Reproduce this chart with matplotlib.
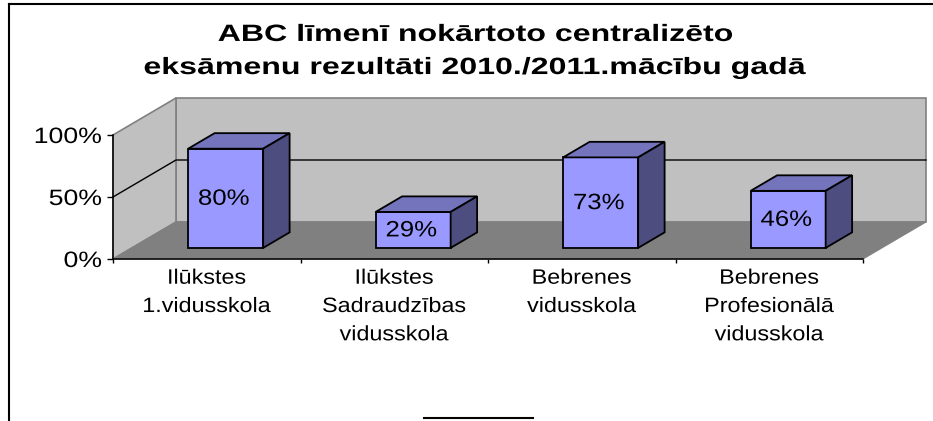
import matplotlib
matplotlib.use('Agg')
import matplotlib.pyplot as plt
from matplotlib.lines import Line2D
from matplotlib.patches import Polygon
from matplotlib.patheffects import AbstractPathEffect
from matplotlib.transforms import Affine2D

plt.rcParams['font.family'] = ['Liberation Sans', 'DejaVu Sans']

title = 'ABC līmenī nokārtoto centralizēto\neksāmenu rezultāti 2010./2011.mācību gadā'
categories = ['Ilūkstes\n1.vidusskola', 'Ilūkstes\nSadraudzības\nvidusskola',
              'Bebrenes\nvidusskola', 'Bebrenes\nProfesionālā\nvidusskola']
values = [80, 29, 73, 46]
value_labels = ['80%', '29%', '73%', '46%']
y_ticks = [0, 50, 100]
y_tick_labels = ['0%', '50%', '100%']

W, H = 933, 421
# plot box of the front plane, in pixels
left, right, top, bottom = 113, 863, 135, 259

# depth of the 3d box, in data units (63 px across, 37 px up)
depth_x = 63 / ((right - left) / 4)
depth_y = 37 / ((bottom - top) / 100)
bar_width = 0.40
bar_front = 0.30
bar_back = 0.72

wall = '#c0c0c0'
floor = '#808080'
bar_face = '#9999ff'
bar_top = '#7474bc'
bar_side = '#4d4d80'


class Stretch(AbstractPathEffect):
    # the reference text is stretched sideways, so widen each line about its centre or right end
    def __init__(self, sx, anchor='center'):
        super().__init__()
        self.sx = sx
        self.anchor = anchor

    def draw_path(self, renderer, gc, tpath, affine, rgbFace=None):
        box = tpath.get_extents(affine)
        cx = box.x1 if self.anchor == 'right' else (box.x0 + box.x1) / 2
        new = affine + Affine2D().translate(-cx, 0).scale(self.sx, 1).translate(cx, 0)
        renderer.draw_path(gc, tpath, new, rgbFace)


def p(x, y, d=0.0):
    # project category x, value y and depth d (0 front, 1 back)
    return (x + d * depth_x, y + d * depth_y)


def poly(ax, pts, face, edge, lw, z):
    ax.add_patch(Polygon(pts, closed=True, facecolor=face, edgecolor=edge,
                         linewidth=lw, zorder=z, clip_on=False, joinstyle='miter'))


fig = plt.figure(figsize=(W / 100, H / 100), dpi=100)
ax = fig.add_axes([left / W, 1 - bottom / H, (right - left) / W, (bottom - top) / H])
ax.set_xlim(0, 4)
ax.set_ylim(0, 100)
ax.patch.set_visible(False)
for s in ['top', 'right']:
    ax.spines[s].set_visible(False)
for s in ['left', 'bottom']:
    ax.spines[s].set_linewidth(1.1)
    ax.spines[s].set_zorder(6)

# walls and floor
poly(ax, [p(0, 0, 1), p(4, 0, 1), p(4, 100, 1), p(0, 100, 1)], wall, floor, 1.2, 1)
poly(ax, [p(0, 0), p(0, 0, 1), p(0, 100, 1), p(0, 100)], wall, floor, 1.2, 1)

# 50% gridline along the side wall and the back wall
for v in y_ticks[1:-1]:
    pts = [p(0, v), p(0, v, 1), p(4, v, 1)]
    ax.plot([q[0] for q in pts], [q[1] for q in pts], color='black', lw=1.0,
            zorder=2, clip_on=False)

poly(ax, [p(0, 0), p(4, 0), p(4, 0, 1), p(0, 0, 1)], floor, floor, 0.8, 3)

# bars
for i, v in enumerate(values):
    x0 = i + 0.5 - bar_width / 2
    x1 = x0 + bar_width
    d0, d1 = bar_front, bar_back
    poly(ax, [p(x0, 0, d0), p(x1, 0, d0), p(x1, v, d0), p(x0, v, d0)], bar_face, 'black', 1.3, 5)
    poly(ax, [p(x0, v, d0), p(x1, v, d0), p(x1, v, d1), p(x0, v, d1)], bar_top, 'black', 1.3, 5)
    poly(ax, [p(x1, 0, d0), p(x1, 0, d1), p(x1, v, d1), p(x1, v, d0)], bar_side, 'black', 1.3, 5)
    cx, cy = p((x0 + x1) / 2, v / 2, d0)
    t = ax.text(cx - 0.01, cy - 0.8, value_labels[i], ha='center', va='center', fontsize=16, color='black', zorder=7)
    t.set_path_effects([Stretch(1.16)])

ax.set_yticks(y_ticks)
ax.set_yticklabels(y_tick_labels, fontsize=16)
for t in ax.get_yticklabels():
    t.set_path_effects([Stretch(1.2, 'right')])
ax.set_xticks(range(5))
ax.set_xticklabels([])
ax.set_xticks([i + 0.5 for i in range(4)], minor=True)
ax.set_xticklabels(categories, minor=True, fontsize=15, linespacing=1.62, va='top')
for t in ax.get_xticklabels(minor=True):
    t.set_path_effects([Stretch(1.12)])
ax.tick_params(axis='x', which='minor', length=0, pad=7)
ax.tick_params(axis='x', which='major', length=3, width=1, direction='out')
ax.tick_params(axis='y', length=4, width=1, pad=4)

t = fig.text(475.5 / W, 1 - 51 / H, title, ha='center', va='center', fontsize=17,
             fontweight='bold', linespacing=1.56)
t.set_path_effects([Stretch(1.36)])

# chart frame cut off by the picture edge
for xs, ys in [([9, 9], [4, 421]), ([9, 933], [4, 4]), ([424, 533], [418, 418])]:
    fig.add_artist(Line2D([a / W for a in xs], [1 - b / H for b in ys], color='black', lw=1.5))

fig.savefig('out.png', dpi=100)
